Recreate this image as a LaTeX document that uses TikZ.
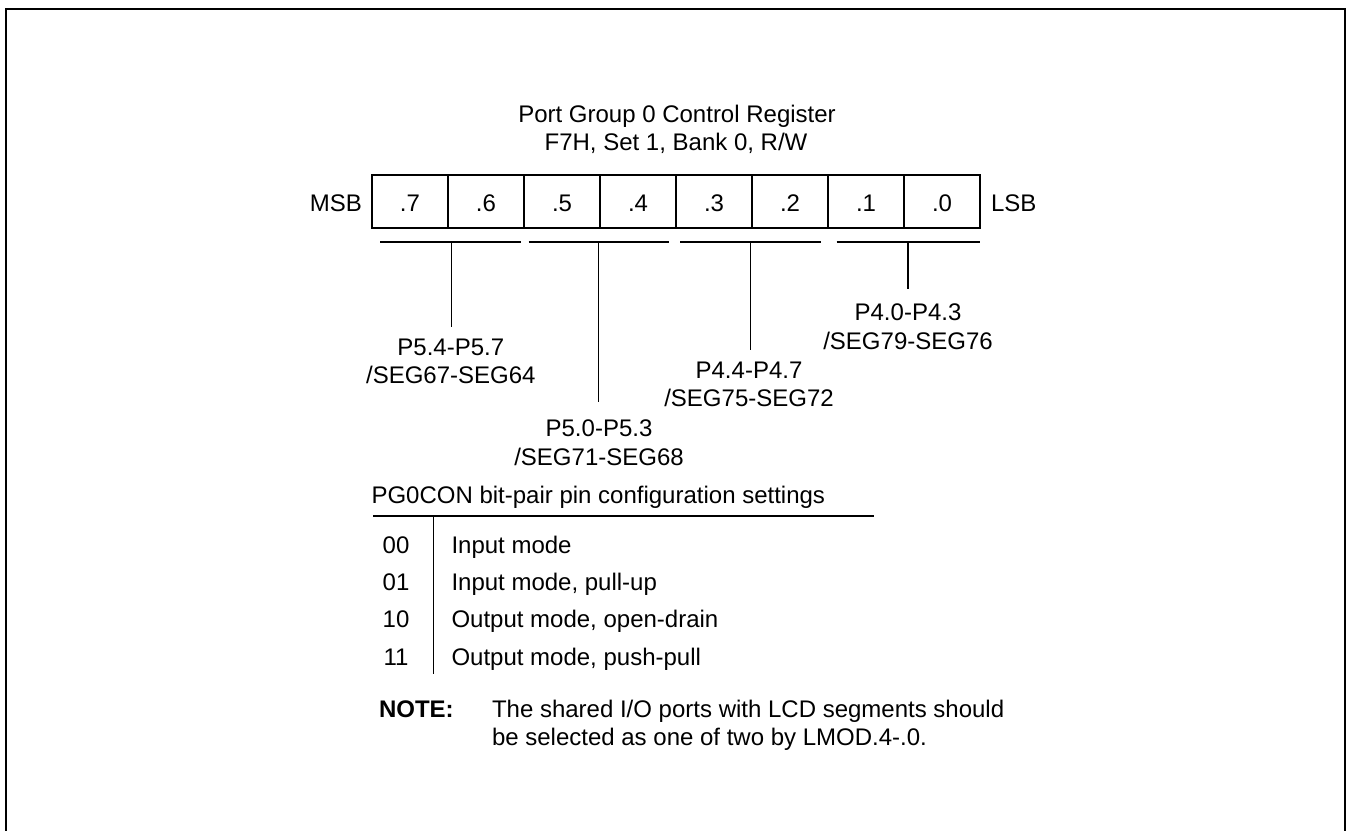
\documentclass[tikz,border=0pt]{standalone}
\usepackage{fontspec}
\setmainfont{Liberation Sans}
\begin{document}
\begin{tikzpicture}[x=1pt,y=-1pt,
  txt/.style={font=\fontsize{24}{28.5}\selectfont, inner sep=0pt, outer sep=0pt},
  boldtxt/.style={txt, font=\fontsize{24}{28.5}\selectfont\bfseries},
  cell/.style={draw, line width=1.6pt, minimum width=76pt, minimum height=53pt,
    inner sep=0pt, text height=20.4pt, text depth=0pt, font=\fontsize{24}{28.5}\selectfont},
  br/.style={line width=1.2pt},
  framestyle/.style={line width=2pt},
  rulestyle/.style={line width=1.3pt}]
\clip (0,0) rectangle (1351,830);
\useasboundingbox (0,0) rectangle (1351,830);
% outer frame (open at the bottom)
\draw[framestyle] (6,840) -- (6,9) -- (1345,9) -- (1345,840);

% title
\node[txt, anchor=base] (t1) at (677,122) {Port Group 0 Control Register};
\node[txt, anchor=base] (t2) at (676,150.5) {F7H, Set 1, Bank 0, R/W};

% register
\node[cell] (c7) at (410,201.5) {.7};
\node[cell] (c6) at (486,201.5) {.6};
\node[cell] (c5) at (562,201.5) {.5};
\node[cell] (c4) at (638,201.5) {.4};
\node[cell] (c3) at (714,201.5) {.3};
\node[cell] (c2) at (790,201.5) {.2};
\node[cell] (c1) at (866,201.5) {.1};
\node[cell] (c0) at (942,201.5) {.0};
\node[txt, anchor=base east] (msb) at (362,211.7) {MSB};
\node[txt, anchor=base west] (lsb) at (991,211.7) {LSB};

% brackets
\coordinate (b1l) at (380,242);   \coordinate (b1r) at (521,242);
\coordinate (b2l) at (528.6,242); \coordinate (b2r) at (669,242);
\coordinate (b3l) at (680,242);   \coordinate (b3r) at (821,242);
\coordinate (b4l) at (836.6,242); \coordinate (b4r) at (979.5,242);
\coordinate (m1) at (451.7,242);  \coordinate (e1) at (451.7,327);
\coordinate (m2) at (598.5,242);  \coordinate (e2) at (598.5,401.7);
\coordinate (m3) at (750.5,242);  \coordinate (e3) at (750.5,350);
\coordinate (m4) at (908,242);    \coordinate (e4) at (908,289.3);
\draw[br] (b1l) -- (b1r);
\draw[br] (b2l) -- (b2r);
\draw[br] (b3l) -- (b3r);
\draw[br] (b4l) -- (b4r);
\draw[br] (m1) -- (e1);
\draw[br] (m2) -- (e2);
\draw[br] (m3) -- (e3);
\draw[br] (m4) -- (e4);

% bracket labels
\node[txt, anchor=base] (l1a) at (450.8,355) {P5.4-P5.7};
\node[txt, anchor=base] (l1b) at (450.8,383.3) {/SEG67-SEG64};
\node[txt, anchor=base] (l2a) at (599,436.7) {P5.0-P5.3};
\node[txt, anchor=base] (l2b) at (599,465) {/SEG71-SEG68};
\node[txt, anchor=base] (l3a) at (749,378.3) {P4.4-P4.7};
\node[txt, anchor=base] (l3b) at (749,406.7) {/SEG75-SEG72};
\node[txt, anchor=base] (l4a) at (908,320.5) {P4.0-P4.3};
\node[txt, anchor=base] (l4b) at (908,349) {/SEG79-SEG76};

% settings table
\node[txt, anchor=base west] (th) at (371.5,503.5) {PG0CON bit-pair pin configuration settings};
\coordinate (rl) at (373,516); \coordinate (rr) at (874,516);
\coordinate (dt) at (433.3,516); \coordinate (db) at (433.3,674);
\draw[rulestyle] (rl) -- (rr);
\draw[rulestyle] (dt) -- (db);
\node[txt, anchor=base] (k0) at (396,553) {00};
\node[txt, anchor=base] (k1) at (396,590) {01};
\node[txt, anchor=base] (k2) at (396,627.3) {10};
\node[txt, anchor=base] (k3) at (396,665) {11};
\node[txt, anchor=base west] (v0) at (451.5,553) {Input mode};
\node[txt, anchor=base west] (v1) at (451.5,590) {Input mode, pull-up};
\node[txt, anchor=base west] (v2) at (451.5,627.3) {Output mode, open-drain};
\node[txt, anchor=base west] (v3) at (451.5,665) {Output mode, push-pull};

% note
\node[boldtxt, anchor=base west] (nt) at (379,717) {NOTE:};
\node[txt, anchor=base west] (n1) at (492,717) {The shared I/O ports with LCD segments should};
\node[txt, anchor=base west] (n2) at (492,745) {be selected as one of two by LMOD.4-.0.};
\end{tikzpicture}
\end{document}
